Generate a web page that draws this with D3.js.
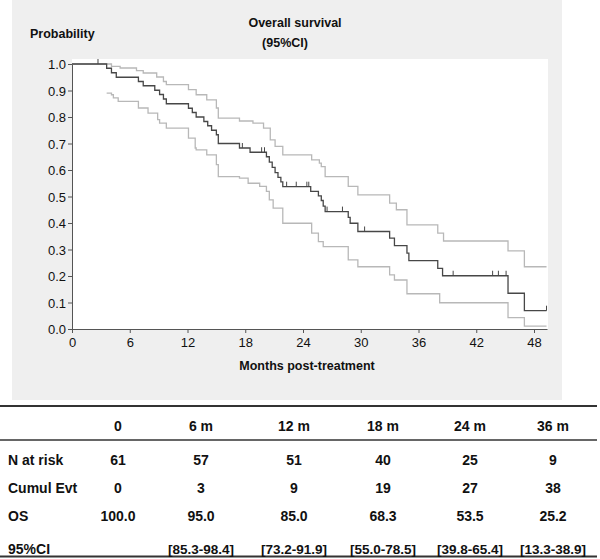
<!DOCTYPE html>
<html lang="en">
<head>
<meta charset="UTF-8">
<title>Overall survival</title>
<script src="https://d3js.org/d3.v7.min.js"></script>
<style>
    body { margin: 0; background: #fff; }
    svg text { font-family: Arial, "Liberation Sans", sans-serif; fill: #111; }
    .tick line, .domain { stroke: #555; }
</style>
</head>
<body>
<svg id="chart" width="600" height="559"></svg>
<script>
    // Kaplan-Meier estimate (months, survival)
    const kmTime = [0, 3.6, 4.1, 4.6, 6.9, 7.4, 8.6, 9.1, 9.5, 9.8, 12.1, 12.5, 12.9, 13.7, 14.1, 14.5, 15.0, 15.2, 17.4, 18.5, 20.2, 20.5, 20.8, 21.1, 21.4, 21.7, 21.9, 24.8, 25.6, 25.9, 26.1, 26.3, 28.7, 28.9, 29.7, 33.0, 33.5, 34.8, 35.0, 38.0, 38.5, 45.3, 47.0, 49.3];
    const kmSurv = [1.0, 0.984, 0.967, 0.95, 0.934, 0.918, 0.901, 0.885, 0.868, 0.85, 0.833, 0.817, 0.80, 0.783, 0.767, 0.75, 0.733, 0.70, 0.683, 0.667, 0.65, 0.63, 0.61, 0.59, 0.572, 0.555, 0.537, 0.519, 0.502, 0.485, 0.464, 0.443, 0.421, 0.399, 0.368, 0.343, 0.315, 0.286, 0.258, 0.229, 0.201, 0.135, 0.069, 0.069];
    const censorTime = [2.7, 17.7, 19.7, 20.0, 22.3, 23.3, 24.4, 24.6, 26.5, 28.1, 30.4, 39.6, 43.7, 44.3, 45.1, 49.3];

    // 95% CI bounds
    const upperTime = [0, 3.6, 4.1, 5.0, 6.7, 7.4, 8.8, 9.5, 9.8, 12.1, 12.9, 14.0, 15.0, 15.2, 17.4, 18.8, 19.9, 20.6, 21.1, 21.9, 24.9, 25.7, 25.9, 26.3, 28.7, 29.7, 33.0, 33.7, 34.8, 38.0, 38.6, 45.3, 47.0, 49.3];
    const upperSurv = [1.0, 1.0, 0.991, 0.985, 0.975, 0.966, 0.951, 0.934, 0.922, 0.903, 0.884, 0.865, 0.834, 0.796, 0.785, 0.777, 0.758, 0.714, 0.689, 0.657, 0.638, 0.626, 0.613, 0.575, 0.538, 0.506, 0.475, 0.45, 0.393, 0.362, 0.332, 0.295, 0.235, 0.235];
    const lowerTime = [3.6, 4.1, 4.3, 4.8, 6.9, 7.9, 8.9, 9.1, 9.8, 12.1, 12.8, 12.9, 14.0, 15.0, 15.2, 17.4, 18.3, 19.5, 20.2, 20.5, 20.9, 21.9, 24.9, 25.6, 26.1, 28.7, 29.7, 33.0, 33.5, 34.8, 38.2, 45.3, 47.0, 49.3];
    const lowerSurv = [0.890, 0.884, 0.872, 0.859, 0.834, 0.815, 0.790, 0.777, 0.758, 0.72, 0.683, 0.676, 0.657, 0.62, 0.575, 0.569, 0.55, 0.538, 0.519, 0.487, 0.456, 0.399, 0.362, 0.330, 0.311, 0.261, 0.235, 0.204, 0.185, 0.133, 0.099, 0.043, 0.011, 0.011];

    const xTicks = [0, 6, 12, 18, 24, 30, 36, 42, 48];
    const yTicks = [0, 0.1, 0.2, 0.3, 0.4, 0.5, 0.6, 0.7, 0.8, 0.9, 1.0];

    // table below the plot
    const colHeads = ["0", "6 m", "12 m", "18 m", "24 m", "36 m"];
    const rowLabels = ["N at risk", "Cumul Evt", "OS", "95%CI"];
    const nAtRisk = [61, 57, 51, 40, 25, 9];
    const cumulEvt = [0, 3, 9, 19, 27, 38];
    const osPct = ["100.0", "95.0", "85.0", "68.3", "53.5", "25.2"];
    const osCI = ["", "[85.3-98.4]", "[73.2-91.9]", "[55.0-78.5]", "[39.8-65.4]", "[13.3-38.9]"];

    const svg = d3.select("#chart");

    // grey panel + white plotting area
    svg.append("rect").attr("x", 12).attr("y", 0).attr("width", 550).attr("height", 400).attr("fill", "#efefef");
    svg.append("rect").attr("x", 72).attr("y", 59).attr("width", 476).attr("height", 270).attr("fill", "#fff");

    const x = d3.scaleLinear().domain([0, 49.35]).range([72, 547]);
    const y = d3.scaleLinear().domain([0, 1]).range([329, 64]);

    const styleTicks = g => g.attr("font-size", 13)
        .attr("font-family", "Arial, 'Liberation Sans', sans-serif")
        .selectAll(".tick text").style("font-size", "13px").attr("fill", "#1a1a1a");

    svg.append("g").attr("transform", "translate(72,0)")
        .call(d3.axisLeft(y).tickValues(yTicks).tickFormat(d3.format(".1f")).tickSize(4).tickSizeOuter(0))
        .call(styleTicks)
        .call(g => g.selectAll("text").attr("dy", "0.35em").attr("x", -6));
    svg.append("g").attr("transform", "translate(0,329)")
        .call(d3.axisBottom(x).tickValues(xTicks).tickSize(4).tickSizeOuter(0))
        .call(styleTicks)
        .call(g => g.selectAll("text").attr("y", 9));

    const step = d3.line().curve(d3.curveStepAfter).x(d => x(d[0])).y(d => y(d[1]));

    function drawCurve(times, surv, color) {
        svg.append("path")
            .datum(d3.zip(times, surv))
            .attr("d", step)
            .attr("fill", "none")
            .attr("stroke", color)
            .attr("stroke-width", 1.3);
    }
    drawCurve(upperTime, upperSurv, "#b8b8b8");
    drawCurve(lowerTime, lowerSurv, "#b8b8b8");
    drawCurve(kmTime, kmSurv, "#474747");

    // censor marks sit on the KM curve
    const survAt = t => kmSurv[d3.bisectRight(kmTime, t) - 1];
    svg.append("g").selectAll("line")
        .data(censorTime)
        .join("line")
        .attr("x1", d => x(d)).attr("x2", d => x(d))
        .attr("y1", d => y(survAt(d))).attr("y2", d => y(survAt(d)) - 5)
        .attr("stroke", "#474747").attr("stroke-width", 1);

    // titles
    svg.append("text").attr("x", 30).attr("y", 38).attr("font-size", 12.5).attr("font-weight", "bold").text("Probability");
    svg.append("text").attr("x", 295).attr("y", 27).attr("text-anchor", "middle").attr("font-size", 12.5).attr("font-weight", "bold").text("Overall survival");
    svg.append("text").attr("x", 285).attr("y", 47).attr("text-anchor", "middle").attr("font-size", 12.5).attr("font-weight", "bold").text("(95%CI)");
    svg.append("text").attr("x", 307).attr("y", 370).attr("text-anchor", "middle").attr("font-size", 12.5).attr("font-weight", "bold").text("Months post-treatment");

    // table
    const col = d3.scaleOrdinal().domain(colHeads).range([118, 201, 294, 383, 470, 553]);
    const rule = (yy, w) => svg.append("line").attr("x1", 0).attr("x2", 597).attr("y1", yy).attr("y2", yy)
        .attr("stroke", "#333").attr("stroke-width", w);
    rule(406, 2);
    rule(440, 1.5);
    rule(556.5, 2);

    const rowY = [465, 493, 521, 554];
    const rowVals = [nAtRisk, cumulEvt, osPct, osCI];
    const cell = (tx, ty, s, anchor, fs) => svg.append("text").attr("x", tx).attr("y", ty)
        .attr("text-anchor", anchor).attr("font-size", fs || 14).attr("font-weight", "bold").text(s);

    colHeads.forEach(h => cell(col(h), 431, h, "middle"));
    rowLabels.forEach((lab, i) => {
        cell(8, rowY[i], lab, "start");
        rowVals[i].forEach((v, j) => cell(col(colHeads[j]), rowY[i], v, "middle", i === 3 ? 13.5 : 14));
    });
</script>
</body>
</html>
